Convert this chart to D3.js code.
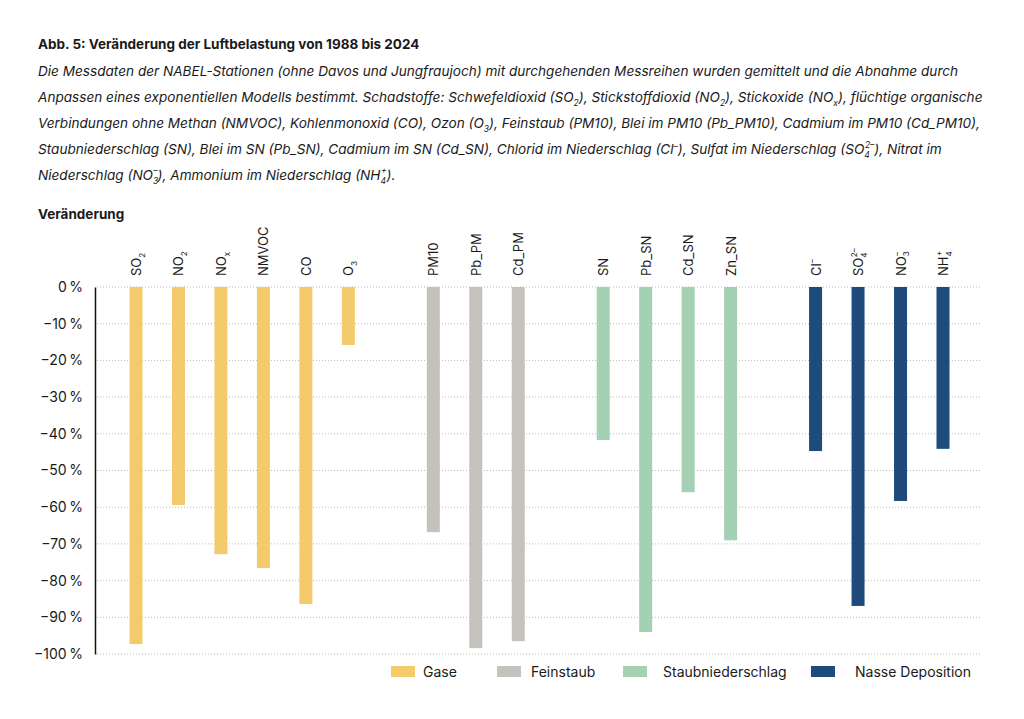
<!DOCTYPE html>
<meta charset="utf-8">
<style>
body { margin: 0; background: #fff; }
svg text { font-family: Inter, "Open Sans", sans-serif; fill: #1a1a1a; }
.grid line { stroke: #bbb; stroke-dasharray: 1,2; }
</style>
<svg width="1024" height="719"></svg>
<script src="https://d3js.org/d3.v7.min.js"></script>
<script>

var svg = d3.select("svg");

// ---- data ----
var groups = ["Gase", "Feinstaub", "Staubniederschlag", "Nasse Deposition"];
var groupColours = ["#f3cb6c", "#c5c1bc", "#a4d0b4", "#1e4a7c"];
var categories = ["SO_{2}", "NO_{2}", "NO_{x}", "NMVOC", "CO", "O_{3}",
                  "PM10", "Pb_PM", "Cd_PM",
                  "SN", "Pb_SN", "Cd_SN", "Zn_SN",
                  "Cl^{–}", "SO_{4}^{2–}", "NO_{3}^{–}", "NH_{4}^{+}"];
var categoryGroup = [0, 0, 0, 0, 0, 0, 1, 1, 1, 2, 2, 2, 2, 3, 3, 3, 3];
var values = [-97.3, -59.4, -72.8, -76.6, -86.4, -15.8,
              -66.8, -98.4, -96.5,
              -41.7, -94.0, -55.9, -69.0,
              -44.7, -86.9, -58.3, -44.1];
var yTicks = [0, -10, -20, -30, -40, -50, -60, -70, -80, -90, -100];

var title = "Abb. 5: Veränderung der Luftbelastung von 1988 bis 2024";
var subtitle = [
  "Die Messdaten der NABEL-Stationen (ohne Davos und Jungfraujoch) mit durchgehenden Messreihen wurden gemittelt und die Abnahme durch",
  "Anpassen eines exponentiellen Modells bestimmt. Schadstoffe: Schwefeldioxid (SO_{2}), Stickstoffdioxid (NO_{2}), Stickoxide (NO_{x}), flüchtige organische",
  "Verbindungen ohne Methan (NMVOC), Kohlenmonoxid (CO), Ozon (O_{3}), Feinstaub (PM10), Blei im PM10 (Pb_PM10), Cadmium im PM10 (Cd_PM10),",
  "Staubniederschlag (SN), Blei im SN (Pb_SN), Cadmium im SN (Cd_SN), Chlorid im Niederschlag (Cl^{–}), Sulfat im Niederschlag (SO_{4}^{2–}), Nitrat im",
  "Niederschlag (NO_{3}^{–}), Ammonium im Niederschlag (NH_{4}^{+})."
];

// slot index: one empty slot between groups
var slots = categories.map(function(c, i) { return i + categoryGroup[i]; });

// ---- helper: write text with _{sub} and ^{sup} markup ----
function richText(sel, str, size) {
  var re = /(_\{[^}]*\}(\^\{[^}]*\})?|\^\{[^}]*\})/g;
  var last = 0, m, shift = 0, small = (size * 0.62) + "px";
  function plain(s) {
    var t = sel.append("tspan").text(s);
    if (shift) { t.attr("dy", -shift); shift = 0; }
  }
  while ((m = re.exec(str)) !== null) {
    if (m.index > last) plain(str.slice(last, m.index));
    var sub = m[0].match(/_\{([^}]*)\}/);
    var sup = m[0].match(/\^\{([^}]*)\}/);
    if (sub) {
      sel.append("tspan").attr("dy", size * 0.3).style("font-size", small).text(sub[1]);
      shift = size * 0.3;
      if (sup) {
        sel.append("tspan").attr("dx", -sub[1].length * size * 0.36)
           .attr("dy", -size * 0.75).style("font-size", small).text(sup[1]);
        shift = -size * 0.45;
      }
    } else {
      sel.append("tspan").attr("dy", -size * 0.4).style("font-size", small).text(sup[1]);
      shift = -size * 0.4;
    }
    last = re.lastIndex;
  }
  if (last < str.length) plain(str.slice(last));
}

// ---- header ----
svg.append("text")
   .attr("x", 38).attr("y", 49)
   .style("font-size", "13.5px").style("font-weight", "bold")
   .text(title);

subtitle.forEach(function(line, i) {
  var t = svg.append("text")
     .attr("x", 38).attr("y", 76 + i * 26)
     .style("font-size", "13.6px").style("font-style", "italic");
  richText(t, line, 13.6);
});

svg.append("text")
   .attr("x", 38).attr("y", 219)
   .style("font-size", "13.5px").style("font-weight", "bold")
   .text("Veränderung");

// ---- scales ----
var y = d3.scaleLinear().domain([-100, 0]).range([654, 287]);
var x = d3.scaleLinear().domain([0, 19]).range([136, 943]);
var barW = 13;

// gridlines
svg.append("g").attr("class", "grid")
   .selectAll("line").data(yTicks).enter().append("line")
   .attr("x1", 97).attr("x2", 980)
   .attr("y1", function(d) { return y(d); })
   .attr("y2", function(d) { return y(d); });

// y axis
var yAxis = d3.axisLeft(y).tickValues(yTicks).tickSize(0).tickPadding(12)
   .tickFormat(function(d) { return (d < 0 ? "\u2212" + (-d) : d) + "\u202F%"; });
var ga = svg.append("g").attr("transform", "translate(95,0)").call(yAxis);
ga.select(".domain").attr("stroke", "#111").attr("stroke-width", 1.5);
ga.selectAll("text").style("font-size", "14px").style("font-family", "Inter, sans-serif").attr("fill", "#1a1a1a");

// bars
svg.append("g").selectAll("rect").data(values).enter().append("rect")
   .attr("x", function(d, i) { return x(slots[i]) - barW / 2; })
   .attr("width", barW)
   .attr("y", y(0))
   .attr("height", function(d) { return y(d) - y(0); })
   .attr("fill", function(d, i) { return groupColours[categoryGroup[i]]; });

// category labels (rotated)
categories.forEach(function(c, i) {
  var t = svg.append("text")
     .attr("transform", "translate(" + (x(slots[i]) + 5) + ",276) rotate(-90)")
     .style("font-size", "13px");
  richText(t, c, 13);
});

// legend
var legX = [391, 497, 623, 811];
var legTextX = [423, 531, 663, 855];
groups.forEach(function(g, i) {
  svg.append("rect")
     .attr("x", legX[i]).attr("y", 666)
     .attr("width", 24).attr("height", 11)
     .attr("fill", groupColours[i]);
  svg.append("text")
     .attr("x", legTextX[i]).attr("y", 677)
     .style("font-size", "14px")
     .text(g);
});

</script>
